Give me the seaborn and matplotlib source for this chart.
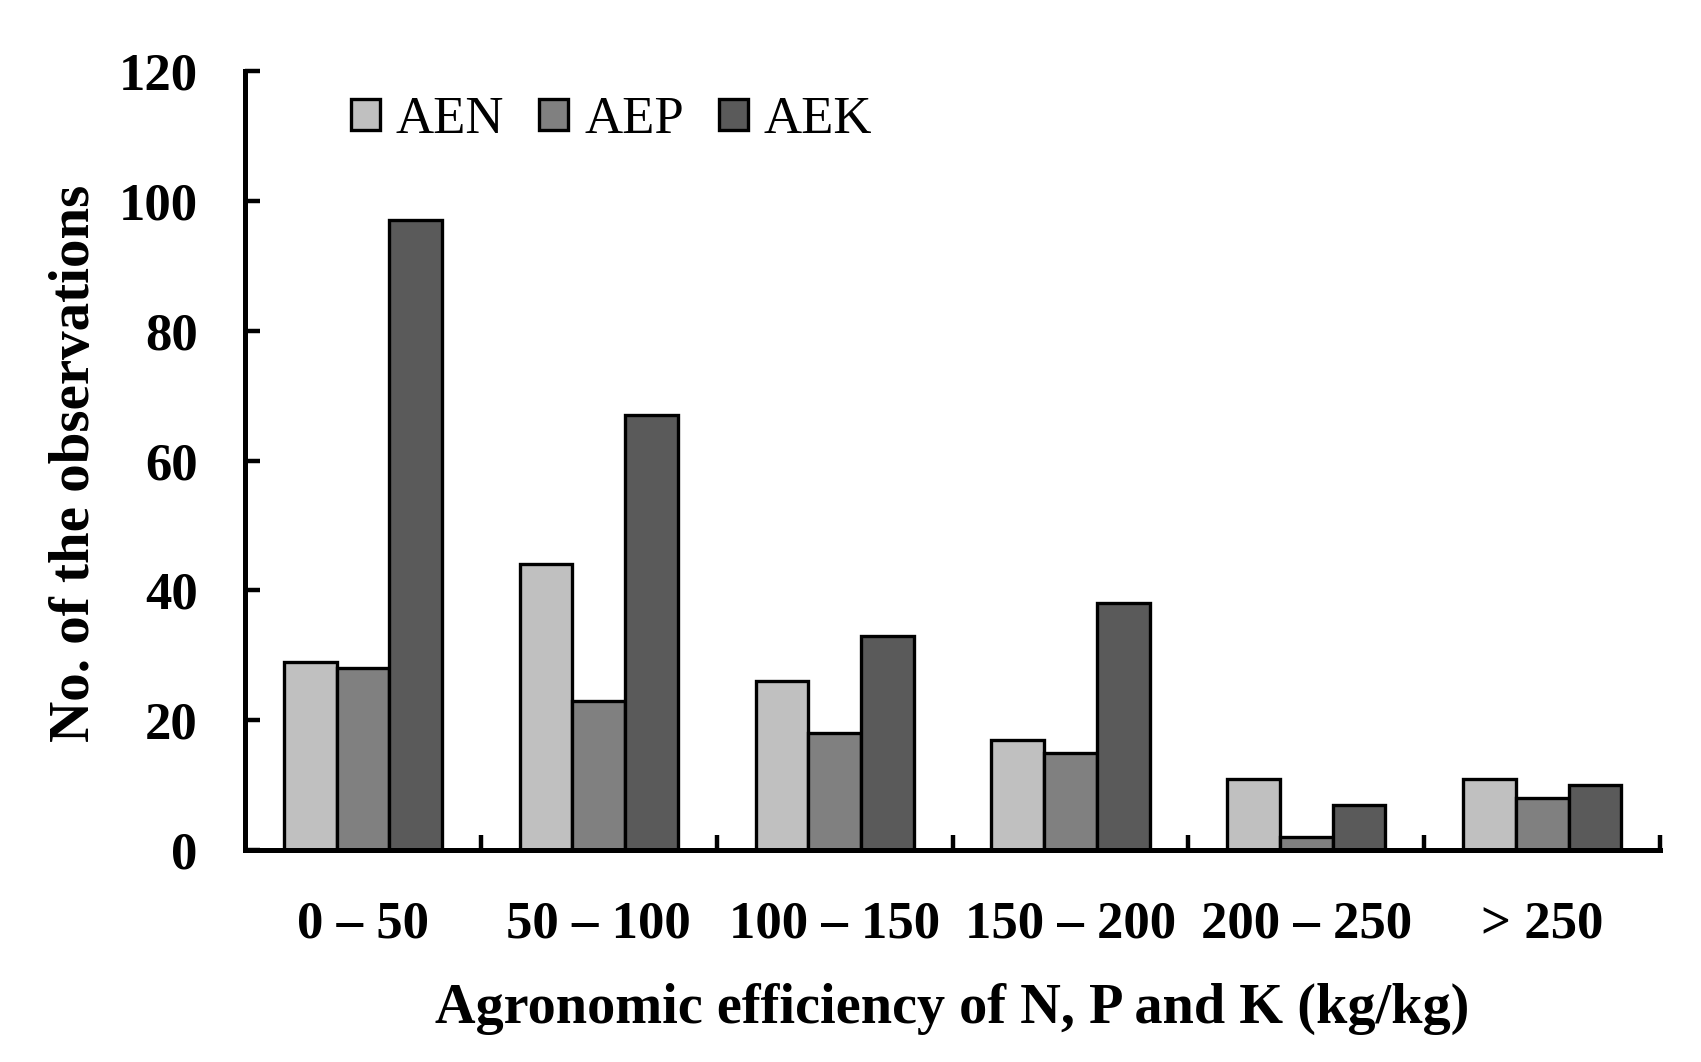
import pandas as pd
import seaborn as sns
import matplotlib.pyplot as plt

categories = ['0 – 50', '50 – 100', '100 – 150', '150 – 200', '200 – 250', '> 250']
aen = [29, 44, 26, 17, 11, 11]
aep = [28, 23, 18, 15, 2, 8]
aek = [97, 67, 33, 38, 7, 10]
series = ['AEN', 'AEP', 'AEK']
colors = ['#c0c0c0', '#808080', '#5a5a5a']
yticks = [0, 20, 40, 60, 80, 100, 120]


def make_frame():
    rows = []
    for name, vals in zip(series, [aen, aep, aek]):
        for cat, v in zip(categories, vals):
            rows.append({'range': cat, 'series': name, 'count': v})
    return pd.DataFrame(rows)


def draw():
    df = make_frame()
    sns.set_style('white')
    plt.rcParams['font.family'] = ['Liberation Serif', 'DejaVu Serif']
    plt.rcParams['text.color'] = 'black'
    plt.rcParams['axes.labelcolor'] = 'black'
    plt.rcParams['xtick.color'] = 'black'
    plt.rcParams['ytick.color'] = 'black'

    fig = plt.figure(figsize=(17.01, 10.62), dpi=100)
    ax = fig.add_axes([0.144, 0.1996, 0.832, 0.7334])

    sns.barplot(data=df, x='range', y='count', hue='series',
                order=categories, hue_order=series, palette=colors,
                width=0.67, gap=0, edgecolor='black', linewidth=2.4,
                saturation=1, ax=ax)

    ax.set_xlim(-0.5, len(categories) - 0.5)
    ax.set_ylim(0, 120)
    ax.set_yticks(yticks)
    ax.set_yticklabels([str(t) for t in yticks], fontweight='bold', fontsize=38)
    ax.set_xticks(range(len(categories)))
    ax.set_xticklabels(categories, fontweight='bold', fontsize=38)
    ax.set_xticks([i + 0.5 for i in range(len(categories))], minor=True)

    ax.tick_params(axis='x', which='major', bottom=False, length=0, pad=36)
    ax.tick_params(axis='x', which='minor', bottom=True, direction='in', length=11, width=3.2)
    ax.tick_params(axis='y', which='major', left=True, direction='in', length=11, width=3.2, pad=34)

    for side in ['top', 'right']:
        ax.spines[side].set_visible(False)
    for side in ['left', 'bottom']:
        ax.spines[side].set_linewidth(3.6)
        ax.spines[side].set_color('black')

    ax.set_xlabel('Agronomic efficiency of N, P and K (kg/kg)', fontweight='bold', fontsize=40.5)
    ax.set_ylabel('No. of the observations', fontweight='bold', fontsize=41)
    ax.xaxis.set_label_coords(0.5, -0.17)
    ax.yaxis.set_label_coords(-0.102, 0.497)

    ax.legend(loc='center left', bbox_to_anchor=(0.06, 0.937), ncol=3, frameon=False,
              fontsize=38, handlelength=0.55, handleheight=0.55,
              handletextpad=0.3, columnspacing=0.66, borderaxespad=0)

    fig.savefig('out.png', dpi=100)


if __name__ == '__main__':
    draw()
